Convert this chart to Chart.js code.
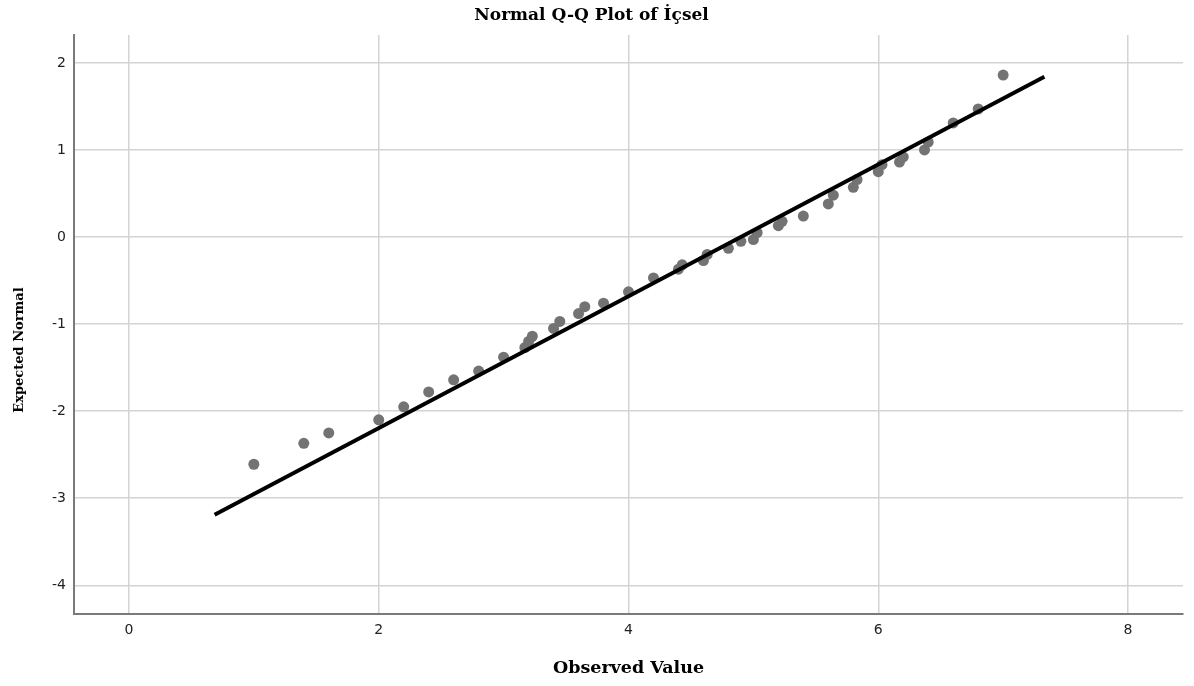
<!DOCTYPE html>
<html>
<head>
<meta charset="utf-8">
<script src="https://cdn.jsdelivr.net/npm/chart.js@4.4.0/dist/chart.umd.min.js"></script>
<style>
html,body{margin:0;padding:0;background:#fff;}
#wrap{width:1194px;height:686px;position:relative;}
</style>
</head>
<body>
<div id="wrap"><canvas id="c"></canvas></div>
<script>
const observed = [1.0, 1.4, 1.6, 2.0, 2.2, 2.4, 2.6, 2.8, 3.0, 3.17, 3.2, 3.23, 3.4, 3.45, 3.6, 3.65, 3.8, 4.0, 4.2, 4.4, 4.43, 4.6, 4.63, 4.8, 4.9, 5.0, 5.03, 5.2, 5.23, 5.4, 5.6, 5.64, 5.8, 5.83, 6.0, 6.03, 6.17, 6.2, 6.37, 6.4, 6.6, 6.8, 7.0];
const expected = [-2.61, -2.37, -2.25, -2.10, -1.95, -1.78, -1.64, -1.54, -1.38, -1.27, -1.20, -1.14, -1.05, -0.97, -0.88, -0.80, -0.76, -0.63, -0.47, -0.37, -0.32, -0.27, -0.20, -0.13, -0.05, -0.03, 0.05, 0.13, 0.18, 0.24, 0.38, 0.48, 0.57, 0.66, 0.75, 0.83, 0.86, 0.92, 1.00, 1.09, 1.31, 1.47, 1.86];
// Reference line end points
const lineX = [0.686, 7.33];
const lineY = [-3.19, 1.84];
// Tick labels
const xTicks = [0, 2, 4, 6, 8];
const yTicks = [-4, -3, -2, -1, 0, 1, 2];

const titleText = 'Normal Q-Q Plot of İçsel';
const xTitle = 'Observed Value';
const yTitle = 'Expected Normal';

const points = observed.map((v, i) => ({x: v, y: expected[i]}));
const linePts = lineX.map((v, i) => ({x: v, y: lineY[i]}));

const tickFont = {family: 'DejaVu Sans', size: 14};
const gridColor = '#d4d4d4';
const axisColor = '#7a7a7a';
const serif = 'DejaVu Serif';

// Draws the vertical y-axis title (slightly below the plot centre, as in the reference)
const yTitlePlugin = {
  id: 'yTitle',
  afterDraw(chart) {
    const ctx = chart.ctx;
    ctx.save();
    ctx.font = 'bold 13px "' + serif + '"';
    ctx.fillStyle = '#000';
    ctx.textAlign = 'center';
    ctx.textBaseline = 'middle';
    ctx.translate(20, 350);
    ctx.rotate(-Math.PI / 2);
    ctx.fillText(yTitle, 0, 0);
    ctx.restore();
  }
};

new Chart(document.getElementById('c'), {
  type: 'scatter',
  data: {
    datasets: [
      {
        label: 'line',
        data: linePts,
        showLine: true,
        borderColor: '#000',
        borderWidth: 4,
        pointRadius: 0,
        fill: false,
        order: 0
      },
      {
        label: 'points',
        data: points,
        backgroundColor: '#737373',
        borderColor: '#737373',
        borderWidth: 0,
        pointRadius: 5.5,
        order: 1
      }
    ]
  },
  plugins: [yTitlePlugin],
  options: {
    responsive: true,
    maintainAspectRatio: false,
    animation: false,
    layout: {padding: {left: 0, right: 11, top: 0, bottom: 0}},
    plugins: {
      legend: {display: false},
      tooltip: {enabled: false},
      title: {
        display: true,
        text: titleText,
        color: '#000',
        font: {family: serif, size: 17, weight: 'bold', lineHeight: 1.2},
        padding: {top: 5, bottom: 9.6}
      }
    },
    scales: {
      x: {
        type: 'linear',
        min: -0.44,
        max: 8.44,
        afterBuildTicks: s => { s.ticks = xTicks.map(v => ({value: v})); },
        afterFit: s => { s.height = 72; },
        grid: {color: gridColor, lineWidth: 1.5, drawTicks: false},
        border: {color: axisColor, width: 2},
        ticks: {color: '#222', font: tickFont, padding: 8, maxRotation: 0},
        title: {
          display: true,
          text: xTitle,
          color: '#000',
          font: {family: serif, size: 17.5, weight: 'bold', lineHeight: 1.2},
          padding: {top: 0, bottom: 7.5}
        }
      },
      y: {
        type: 'linear',
        min: -4.33,
        max: 2.32,
        afterBuildTicks: s => { s.ticks = yTicks.map(v => ({value: v})); },
        afterFit: s => { s.width = 74; },
        grid: {color: gridColor, lineWidth: 1.5, drawTicks: false},
        border: {color: axisColor, width: 2},
        ticks: {color: '#222', font: tickFont, padding: 8},
        title: {display: false, text: yTitle}
      }
    }
  }
});
</script>
</body>
</html>
